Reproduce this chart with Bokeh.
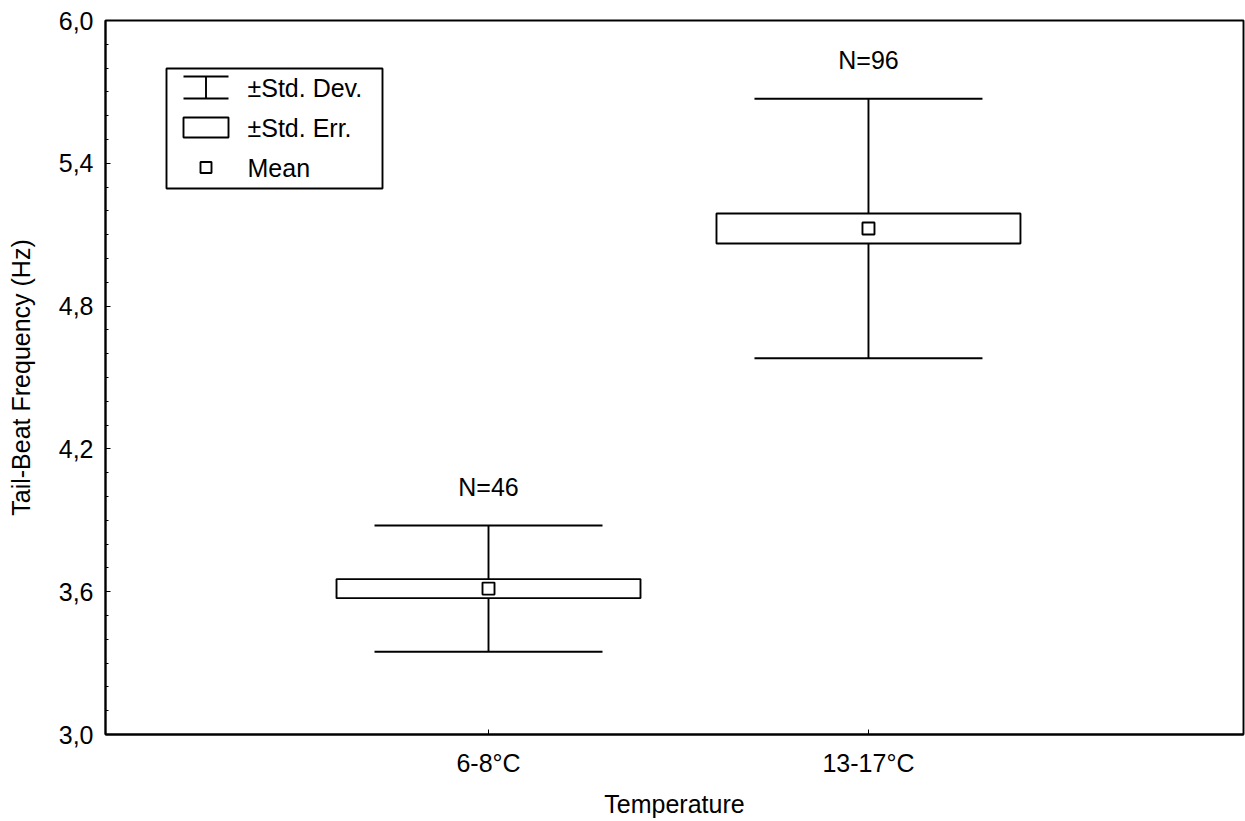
from bokeh.plotting import figure
from bokeh.models import Range1d, FixedTicker
from bokeh.core.properties import value
from bokeh.embed import file_html
from bokeh.resources import INLINE

# ---------------- data ----------------
categories = ["6-8°C", "13-17°C"]
means = [3.613, 5.126]
std_dev = [0.265, 0.545]
std_err = [0.040, 0.063]
n_obs = [46, 96]

y_ticks = [3.0, 3.6, 4.2, 4.8, 5.4, 6.0]
y_tick_labels = ["3,0", "3,6", "4,2", "4,8", "5,4", "6,0"]
y_minor = [3.1, 3.2, 3.3, 3.4, 3.5, 3.7, 3.8, 3.9, 4.0, 4.1, 4.3, 4.4, 4.5, 4.6, 4.7,
           4.9, 5.0, 5.1, 5.2, 5.3, 5.5, 5.6, 5.7, 5.8, 5.9]

legend_labels = ["±Std. Dev.", "±Std. Err.", "Mean"]

# ---------------- styling ----------------
FONT = "Liberation Sans"
FS = "25px"
LW = 1.9
X_START, X_END = -0.008, 2.987
Y_START, Y_END = 3.0, 6.0
BOX_HALF = 0.40
CAP_HALF = 0.30

W, H = 1245, 821
B_LEFT, B_RIGHT, B_TOP, B_BOTTOM = 105, 2, 20, 87
FRAME_W = W - B_LEFT - B_RIGHT
FRAME_H = H - B_TOP - B_BOTTOM

xs = [i + 1 for i in range(len(categories))]

p = figure(width=W, height=H, x_range=Range1d(X_START, X_END), y_range=Range1d(Y_START, Y_END),
           output_backend="svg", toolbar_location=None,
           min_border_left=B_LEFT, min_border_right=B_RIGHT,
           min_border_top=B_TOP, min_border_bottom=B_BOTTOM)
p.xgrid.visible = False
p.ygrid.visible = False
p.outline_line_color = "black"
p.outline_line_width = LW
p.background_fill_color = "white"
p.border_fill_color = "white"

# axes
xa = p.xaxis[0]
xa.ticker = FixedTicker(ticks=xs)
xa.major_label_overrides = {x: c for x, c in zip(xs, categories)}
xa.axis_label = "Temperature"
ya = p.yaxis[0]
ya.ticker = FixedTicker(ticks=y_ticks, minor_ticks=y_minor)
ya.major_label_overrides = {t: l for t, l in zip(y_ticks, y_tick_labels)}
ya.axis_label = "Tail-Beat Frequency (Hz)"
for ax in (xa, ya):
    ax.axis_line_color = "black"
    ax.axis_line_width = LW
    ax.major_tick_in = 5
    ax.major_tick_out = 0
    ax.minor_tick_in = 3
    ax.minor_tick_out = 0
    ax.major_tick_line_color = "black"
    ax.minor_tick_line_color = "black"
    ax.major_label_text_font = FONT
    ax.major_label_text_font_size = FS
    ax.major_label_text_color = "black"
    ax.axis_label_text_font = FONT
    ax.axis_label_text_font_size = FS
    ax.axis_label_text_font_style = "normal"
    ax.axis_label_text_color = "black"
xa.minor_tick_line_color = None
xa.major_label_standoff = 14
xa.axis_label_standoff = 10
ya.major_label_standoff = 12
ya.axis_label_standoff = 21

# ---------------- marks ----------------
sd_lo = [m - s for m, s in zip(means, std_dev)]
sd_hi = [m + s for m, s in zip(means, std_dev)]
se_lo = [m - s for m, s in zip(means, std_err)]
se_hi = [m + s for m, s in zip(means, std_err)]

# SD whiskers
p.segment(x0=xs, y0=sd_lo, x1=xs, y1=sd_hi, line_color="black", line_width=LW)
p.segment(x0=[x - CAP_HALF for x in xs], y0=sd_hi, x1=[x + CAP_HALF for x in xs], y1=sd_hi,
          line_color="black", line_width=LW)
p.segment(x0=[x - CAP_HALF for x in xs], y0=sd_lo, x1=[x + CAP_HALF for x in xs], y1=sd_lo,
          line_color="black", line_width=LW)
# SE boxes
p.quad(left=[x - BOX_HALF for x in xs], right=[x + BOX_HALF for x in xs], bottom=se_lo, top=se_hi,
       fill_color="white", line_color="black", line_width=LW)
# means
p.scatter(x=xs, y=means, marker="square", size=12, fill_color="white", line_color="black", line_width=LW)
# N labels
p.text(x=xs, y=sd_hi, text=[f"N={n}" for n in n_obs], y_offset=-39,
       text_align="center", text_baseline="middle", text_font=value(FONT),
       text_font_size=FS, text_color="black")

# ---------------- legend (drawn in frame pixel layout) ----------------
def fx(px):
    return X_START + px * (X_END - X_START) / FRAME_W

def fy(py):
    return Y_END - py * (Y_END - Y_START) / FRAME_H

L_LEFT, L_RIGHT, L_TOP, L_BOTTOM = 61, 277, 48, 168
p.quad(left=[fx(L_LEFT)], right=[fx(L_RIGHT)], top=[fy(L_TOP)], bottom=[fy(L_BOTTOM)],
       fill_color="white", line_color="black", line_width=LW)
SYM_L, SYM_R, SYM_C = 78, 123, 100.5
# I-beam
p.segment(x0=[fx(SYM_L), fx(SYM_L), fx(SYM_C)], y0=[fy(56), fy(78), fy(56)],
          x1=[fx(SYM_R), fx(SYM_R), fx(SYM_C)], y1=[fy(56), fy(78), fy(78)],
          line_color="black", line_width=LW)
# rectangle
p.quad(left=[fx(SYM_L)], right=[fx(SYM_R)], top=[fy(97)], bottom=[fy(117)],
       fill_color="white", line_color="black", line_width=LW)
# mean marker
p.scatter(x=[fx(SYM_C)], y=[fy(147)], marker="square", size=11, fill_color="white",
          line_color="black", line_width=LW)
p.text(x=[fx(142)] * 3, y=[fy(67), fy(107), fy(147)], text=legend_labels,
       text_align="left", text_baseline="middle", text_font=value(FONT),
       text_font_size=FS, text_color="black")

open("out.html", "w").write(file_html(p, INLINE))
